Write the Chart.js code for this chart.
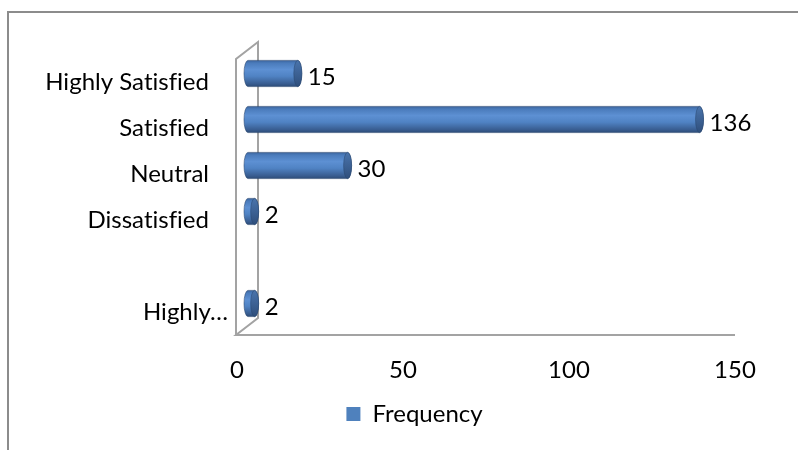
<!DOCTYPE html>
<html>
<head>
<meta charset="utf-8">
<script src="https://cdn.jsdelivr.net/npm/chart.js@4.4.1/dist/chart.umd.min.js"></script>
<style>
  html, body { margin: 0; padding: 0; background: #ffffff; }
  #wrap { width: 798px; height: 450px; position: relative; }
  canvas { font-variant-ligatures: none; }
</style>
</head>
<body>
<div id="wrap"><canvas id="chart" width="798" height="450"></canvas></div>
<script>
// Survey responses by satisfaction level (top to bottom)
const categories = ["Highly Satisfied", "Satisfied", "Neutral", "Dissatisfied", "", "Highly…"];
const frequency = [15, 136, 30, 2, null, 2];
const xTicks = [0, 50, 100, 150];
const seriesName = "Frequency";

const FONT = "Lato, 'Open Sans', sans-serif";
const BAR_BLUE = "#4F81BD";
const WALL_GREY = "#A3A3A3";
// depth of the 3-D plot box; cylinders sit half way back
const DEPTH_X = 22, DEPTH_Y = 17;
// horizontal offset of the legend from its default centred spot
const LEGEND_SHIFT = 47;
// the truncated last category label sits closer to the wall
const TRUNCATED_LABEL_SHIFT = 19;

// plain glyphs, no "fi" ligatures (a tiny letter spacing switches them off)
const textPlugin = {
  id: "plainText",
  beforeDraw(chart) {
    const ctx = chart.ctx;
    if ("textRendering" in ctx) ctx.textRendering = "optimizeSpeed";
    if ("letterSpacing" in ctx) ctx.letterSpacing = "0.01px";
    const y = chart.scales.y;
    if (y && typeof y.getLabelItems === "function") {
      const items = y.getLabelItems();
      items.forEach(item => {
        if (item.label === "Highly…" && !item._shifted) {
          item.options.translation[0] += TRUNCATED_LABEL_SHIFT;
          item._shifted = true;
        }
      });
    }
  }
};

const legendShiftPlugin = {
  id: "legendShift",
  afterLayout(chart) {
    if (chart.legend) {
      chart.legend.left += LEGEND_SHIFT;
      chart.legend.right += LEGEND_SHIFT;
    }
  }
};

// Outer frame and the 3-D wall / floor outline
const wallPlugin = {
  id: "walls",
  beforeDatasetsDraw(chart) {
    const { ctx, chartArea: a } = chart;
    ctx.save();
    ctx.strokeStyle = "#8C8C8C";
    ctx.lineWidth = 2;
    ctx.beginPath();
    ctx.moveTo(8, 450);
    ctx.lineTo(8, 12);
    ctx.lineTo(798, 12);
    ctx.stroke();

    ctx.strokeStyle = WALL_GREY;
    ctx.lineWidth = 2;
    ctx.beginPath();
    // front edge of side wall
    ctx.moveTo(a.left - 1, a.bottom);
    ctx.lineTo(a.left - 1, a.top);
    ctx.lineTo(a.left - 1 + DEPTH_X, a.top - DEPTH_Y);
    ctx.lineTo(a.left - 1 + DEPTH_X, a.bottom - DEPTH_Y);
    ctx.lineTo(a.left - 1, a.bottom);
    // floor front edge
    ctx.lineTo(a.right, a.bottom);
    ctx.stroke();
    ctx.restore();
  }
};

function cylinder(ctx, x0, x1, yc, r, rx) {
  const body = ctx.createLinearGradient(0, yc - r, 0, yc + r);
  body.addColorStop(0, "#3A639C");
  body.addColorStop(0.1, "#4A7BBB");
  body.addColorStop(0.35, "#5D90D3");
  body.addColorStop(0.6, "#5083C4");
  body.addColorStop(0.88, "#395E92");
  body.addColorStop(1, "#2D4C78");
  ctx.beginPath();
  ctx.moveTo(x0, yc - r);
  ctx.lineTo(x1, yc - r);
  ctx.ellipse(x1, yc, rx, r, 0, -Math.PI / 2, Math.PI / 2, false);
  ctx.lineTo(x0, yc + r);
  ctx.ellipse(x0, yc, rx, r, 0, Math.PI / 2, Math.PI * 1.5, false);
  ctx.closePath();
  ctx.fillStyle = body;
  ctx.fill();
  ctx.strokeStyle = "rgba(40,70,110,0.55)";
  ctx.lineWidth = 1;
  ctx.stroke();

  const cap = ctx.createLinearGradient(0, yc - r, 0, yc + r);
  cap.addColorStop(0, "#4A74AC");
  cap.addColorStop(1, "#2F4F7C");
  ctx.beginPath();
  ctx.ellipse(x1, yc, rx, r, 0, 0, Math.PI * 2);
  ctx.fillStyle = cap;
  ctx.fill();
  ctx.strokeStyle = "rgba(40,70,110,0.5)";
  ctx.stroke();
}

// Bars are drawn as shaded cylinders from the bar elements' geometry
const cylinderPlugin = {
  id: "cylinders",
  beforeDatasetDraw(chart, args) {
    const { ctx } = chart;
    const meta = args.meta;
    const values = chart.data.datasets[args.index].data;
    ctx.save();
    meta.data.forEach((el, i) => {
      if (values[i] === null || values[i] === undefined) return;
      const p = el.getProps(["x", "y", "base", "height"], true);
      const r = p.height / 2;
      const dx = DEPTH_X / 2, dy = -DEPTH_Y / 2;
      cylinder(ctx, p.base + dx, p.x + dx, p.y + dy, r, 4);
      // value label
      ctx.fillStyle = "#000";
      ctx.font = "24px " + FONT;
      ctx.textAlign = "left";
      ctx.textBaseline = "middle";
      ctx.fillText(String(values[i]), p.x + dx + 10, p.y + dy + 4);
    });
    ctx.restore();
    return false;
  }
};

new Chart(document.getElementById("chart"), {
  type: "bar",
  data: {
    labels: categories,
    datasets: [{
      label: seriesName,
      data: frequency,
      backgroundColor: BAR_BLUE,
      borderWidth: 0,
      categoryPercentage: 1,
      barPercentage: 0.57
    }]
  },
  options: {
    indexAxis: "y",
    responsive: false,
    animation: false,
    events: [],
    layout: { padding: { top: 59, right: 63, bottom: 14, left: 0 } },
    scales: {
      x: {
        min: 0,
        max: 150,
        afterBuildTicks(scale) { scale.ticks = xTicks.map(v => ({ value: v })); },
        afterFit(scale) { scale.height = 57; },
        grid: { display: false, drawTicks: false },
        border: { display: false },
        ticks: { color: "#000", font: { family: FONT, size: 24 }, padding: 21, maxRotation: 0 }
      },
      y: {
        afterFit(scale) { scale.width = 237; },
        grid: { display: false, drawTicks: false },
        border: { display: false },
        ticks: { color: "#000", font: { family: FONT, size: 24 }, padding: 28, autoSkip: false }
      }
    },
    plugins: {
      legend: {
        position: "bottom",
        labels: {
          boxWidth: 14,
          boxHeight: 14,
          padding: 10,
          color: "#000",
          font: { family: FONT, size: 24 }
        }
      },
      tooltip: { enabled: false }
    }
  },
  plugins: [textPlugin, legendShiftPlugin, wallPlugin, cylinderPlugin]
});
</script>
</body>
</html>
